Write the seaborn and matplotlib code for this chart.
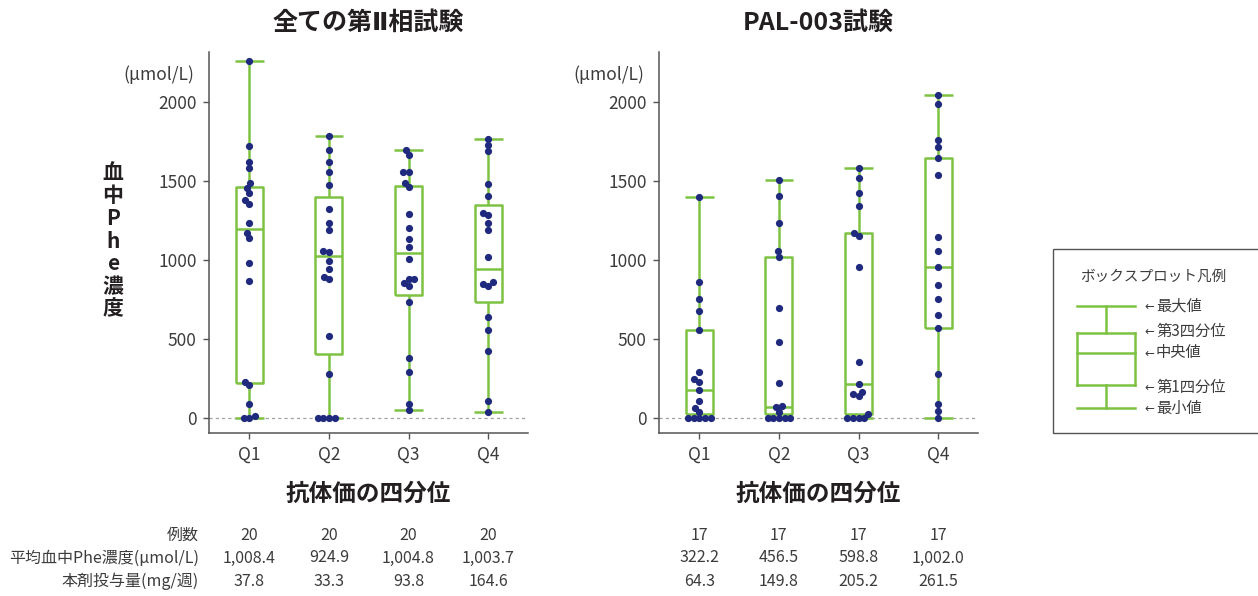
import numpy as np
import pandas as pd
import matplotlib
matplotlib.use("Agg")
import matplotlib.pyplot as plt
import seaborn as sns
from matplotlib import transforms
from matplotlib.patches import Rectangle
from matplotlib.lines import Line2D

# ---------------- data ----------------
quartiles = ["Q1", "Q2", "Q3", "Q4"]

# 全ての第Ⅱ相試験 : individual blood Phe (µmol/L)
p2_q1 = [2260, 1724, 1622, 1580, 1485, 1454, 1422, 1380, 1355, 1232,
         1169, 1137, 981, 867, 228, 208, 87, 12, 0, 0]
p2_q2 = [1787, 1696, 1622, 1557, 1474, 1320, 1236, 1189, 1058, 1048,
         995, 944, 893, 876, 519, 275, 0, 0, 0, 0]
p2_q3 = [1696, 1664, 1559, 1559, 1485, 1459, 1288, 1204, 1134, 1081,
         1005, 876, 876, 851, 833, 733, 376, 287, 84, 49]
p2_q4 = [1768, 1728, 1690, 1481, 1402, 1299, 1282, 1231, 1189, 1020,
         857, 850, 836, 640, 555, 420, 106, 34]

# box statistics (min, Q1, median, Q3, max)
p2_whislo = [0, 0, 49, 34]
p2_box_lo = [218, 401, 777, 735]
p2_median = [1198, 1024, 1045, 944]
p2_box_hi = [1460, 1400, 1470, 1347]
p2_whishi = [2260, 1787, 1696, 1768]

# PAL-003試験
pal_q1 = [1396, 860, 752, 676, 553, 289, 243, 228, 175, 106, 59, 38,
          0, 0, 0, 0, 0]
pal_q2 = [1506, 1402, 1231, 1054, 1020, 695, 477, 222, 72, 68, 38,
          0, 0, 0, 0, 0]
pal_q3 = [1580, 1521, 1426, 1343, 1172, 1153, 957, 351, 213, 165, 150,
          137, 23, 0, 0, 0, 0]
pal_q4 = [2042, 1987, 1759, 1713, 1647, 1538, 1147, 1056, 957, 841, 754,
          650, 570, 275, 84, 42, 0]

pal_whislo = [0, 0, 0, 0]
pal_box_lo = [22, 22, 22, 570]
pal_median = [175, 70, 213, 957]
pal_box_hi = [553, 1020, 1172, 1647]
pal_whishi = [1396, 1506, 1580, 2042]

# table under the panels
row_labels = ["例数", "平均血中Phe濃度(μmol/L)", "本剤投与量(mg/週)"]
p2_n = ["20", "20", "20", "20"]
p2_mean_phe = ["1,008.4", "924.9", "1,004.8", "1,003.7"]
p2_dose = ["37.8", "33.3", "93.8", "164.6"]
pal_n = ["17", "17", "17", "17"]
pal_mean_phe = ["322.2", "456.5", "598.8", "1,002.0"]
pal_dose = ["64.3", "149.8", "205.2", "261.5"]

titles = ["全ての第Ⅱ相試験", "PAL-003試験"]
xlabel = "抗体価の四分位"
ylabel = "血\n中\nP\nh\ne\n濃\n度"
unit = "(μmol/L)"
yticks = [0, 500, 1000, 1500, 2000]

legend_title = "ボックスプロット凡例"
legend_labels = ["最大値", "第3四分位", "中央値", "第1四分位", "最小値"]

# ---------------- style ----------------
sns.set_theme(style="white")
plt.rcParams["font.family"] = ["Noto Sans CJK JP", "DejaVu Sans"]

GREEN = "#7DC242"
NAVY = "#1F2A7E"
TEXT = "#231F20"
GREY = "#3C3C3C"

W, H = 1258, 596
fig = plt.figure(figsize=(W / 100, H / 100), dpi=100)


def fx(px):
    return px / W


def fy(py):
    return 1 - py / H


def make_df(groups):
    rows = []
    for q, vals in zip(quartiles, groups):
        for v in vals:
            rows.append({"quartile": q, "phe": v})
    return pd.DataFrame(rows)


panels = [
    dict(left=209, groups=[p2_q1, p2_q2, p2_q3, p2_q4],
         stats=(p2_whislo, p2_box_lo, p2_median, p2_box_hi, p2_whishi),
         table=[p2_n, p2_mean_phe, p2_dose],
         title_family=["DejaVu Sans", "Noto Sans CJK JP"]),
    dict(left=659, groups=[pal_q1, pal_q2, pal_q3, pal_q4],
         stats=(pal_whislo, pal_box_lo, pal_median, pal_box_hi, pal_whishi),
         table=[pal_n, pal_mean_phe, pal_dose],
         title_family=["Noto Sans CJK JP", "DejaVu Sans"]),
]

row_y = [535, 558, 581]
swarm_colls = []

for i, p in enumerate(panels):
    ax = fig.add_axes([fx(p["left"]), fy(433), 319 / W, 381 / H])
    ax.set_xlim(-0.506, 3.5)
    ax.set_ylim(-97, 2317)

    lo, b1, med, b3, hi = p["stats"]
    bstats = []
    for k in range(4):
        bstats.append(dict(whislo=lo[k], q1=b1[k], med=med[k], q3=b3[k],
                           whishi=hi[k], fliers=[]))
    lineprops = dict(color=GREEN, linewidth=1.8, solid_capstyle="butt")
    ax.bxp(bstats, positions=range(4), widths=0.34, capwidths=0.36,
           showfliers=False, patch_artist=False,
           boxprops=lineprops, whiskerprops=lineprops,
           capprops=lineprops, medianprops=lineprops, manage_ticks=False,
           zorder=2)

    n_before = len(ax.collections)
    df = make_df(p["groups"])
    # the swarm layout is computed with a smaller footprint so that dots
    # overlap vertically as in the original and only near-ties are dodged
    sns.swarmplot(data=df, x="quartile", y="phe", order=quartiles, ax=ax,
                  color=NAVY, size=3.9, linewidth=0, zorder=3)
    swarm_colls.extend(ax.collections[n_before:])

    ax.set_xlim(-0.506, 3.5)
    ax.set_ylim(-97, 2317)
    ax.axhline(0, color="#A0A0A0", lw=0.9, ls=(0, (2.5, 2.5)), zorder=1)

    ax.set_yticks(yticks)
    ax.set_yticklabels([str(t) for t in yticks])
    ax.set_xticks(range(4))
    ax.set_xticklabels(quartiles)
    ax.set_xlabel("")
    ax.set_ylabel("")
    for s in ["top", "right"]:
        ax.spines[s].set_visible(False)
    for s in ["left", "bottom"]:
        ax.spines[s].set_color("#555555")
        ax.spines[s].set_linewidth(1.1)
    ax.tick_params(axis="both", which="major", length=4, width=1,
                   color="#555555", labelcolor=GREY, labelsize=12.5,
                   left=True, bottom=True)
    ax.tick_params(axis="y", pad=5)
    ax.tick_params(axis="x", pad=5)

    cx = p["left"] + 319 / 2
    fig.text(fx(cx), fy(23), titles[i], ha="center", va="center",
             fontsize=18, fontweight="bold", color=TEXT,
             family=p["title_family"])
    fig.text(fx(cx), fy(494), xlabel, ha="center", va="center",
             fontsize=17, fontweight="bold", color=TEXT)
    fig.text(fx(p["left"] - 15), fy(75), unit, ha="right", va="center",
             fontsize=12.5, color=GREY)

    trans = transforms.blended_transform_factory(ax.transData, fig.transFigure)
    for r, row in enumerate(p["table"]):
        for k, val in enumerate(row):
            ax.text(k, fy(row_y[r]), val, transform=trans, ha="center",
                    va="center", fontsize=11.5, color=GREY, clip_on=False)

# row labels of the table
for r, lab in enumerate(row_labels):
    fig.text(fx(199), fy(row_y[r]), lab, ha="right", va="center",
             fontsize=11.5, color=GREY)

# stacked y label
fig.text(fx(113), fy(241), ylabel, ha="center", va="center",
         fontsize=15, fontweight="bold", color=TEXT, linespacing=1.1,
         multialignment="center")

# ---------------- legend box ----------------
fig.patches.append(Rectangle((fx(1053), fy(433)), (1275 - 1053) / W,
                             (433 - 249) / H, transform=fig.transFigure,
                             fill=False, edgecolor="#555555", linewidth=1.0))
fig.text(fx(1153), fy(277), legend_title, ha="center", va="center",
         fontsize=10.5, color=GREY)

x0, x1, xc = 1077, 1135, 1106
ly_max, ly_q3, ly_med, ly_q1, ly_min = 306, 333, 353, 385, 408
segs = [
    ((x0, x1), (ly_max, ly_max)),
    ((xc, xc), (ly_max, ly_q3)),
    ((x0, x1), (ly_q3, ly_q3)),
    ((x0, x1), (ly_med, ly_med)),
    ((x0, x1), (ly_q1, ly_q1)),
    ((x0, x0), (ly_q3, ly_q1)),
    ((x1, x1), (ly_q3, ly_q1)),
    ((xc, xc), (ly_q1, ly_min)),
    ((x0, x1), (ly_min, ly_min)),
]
for (xa, xb), (ya, yb) in segs:
    fig.lines.append(Line2D([fx(xa), fx(xb)], [fy(ya), fy(yb)],
                            transform=fig.transFigure, color=GREEN,
                            linewidth=1.8, solid_capstyle="projecting"))

label_y = [306, 331, 353, 387, 408]
for lab, yy in zip(legend_labels, label_y):
    fig.text(fx(1144), fy(yy), "←", ha="left", va="center", fontsize=8.5,
             color=GREY, family="DejaVu Sans")
    fig.text(fx(1156), fy(yy), lab, ha="left", va="center", fontsize=11,
             color=GREY)

# compute the swarm layout once, then show the dots at full size
fig.canvas.draw()
for coll in swarm_colls:
    if "draw" in coll.__dict__:
        del coll.draw
    coll.set_sizes([5.2 ** 2])

fig.savefig("out.png", dpi=100)
